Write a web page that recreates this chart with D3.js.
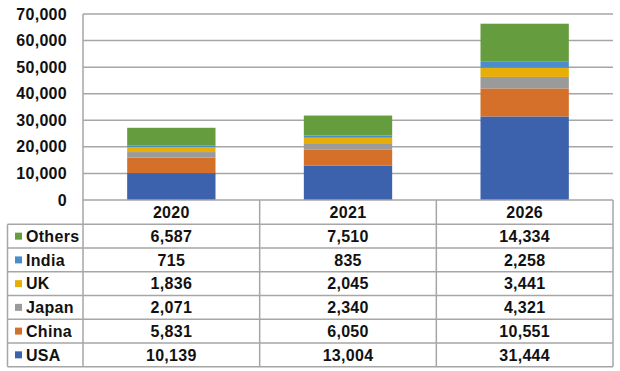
<!DOCTYPE html>
<html>
<head>
<meta charset="utf-8">
<script src="https://cdn.jsdelivr.net/npm/d3@7"></script>
<style>
    body { margin: 0; background: #fff; }
    text { font-family: "Liberation Sans", Arial, sans-serif; font-weight: bold; font-size: 16px; letter-spacing: 0.3px; fill: #111; }
</style>
</head>
<body>
<svg id="chartSvg" width="620" height="371"></svg>
<script>

const years = ['2020', '2021', '2026']
const countries = ['USA', 'China', 'Japan', 'UK', 'India', 'Others']
const usa = [10139, 13004, 31444]
const china = [5831, 6050, 10551]
const japan = [2071, 2340, 4321]
const uk = [1836, 2045, 3441]
const india = [715, 835, 2258]
const others = [6587, 7510, 14334]
const yTicks = [0, 10000, 20000, 30000, 40000, 50000, 60000, 70000]
const colours = ['#3D62AD', '#D5702B', '#9A9A9A', '#E8AE08', '#4A8DCC', '#659D3E']

window.onload = function(){
    chart.draw()
}

class chart {

    static left = 83
    static right = 613
    static top = 14
    static bottom = 200
    static tableLeft = 7.5
    static headerBottom = 224.3
    static tableBottom = 366.7
    static lineColour = '#A6A6A6'

    static draw(svg = d3.select('#chartSvg')){
        const seriesValues = [usa, china, japan, uk, india, others]
        const rows = years.map((year, i) => {
            const row = {year: year}
            countries.forEach((c, j) => row[c] = seriesValues[j][i])
            return row
        })

        const x = d3.scaleBand()
            .domain(years)
            .range([this.left, this.right])
            .paddingInner(0.5)
            .paddingOuter(0.25)

        const y = d3.scaleLinear()
            .domain([0, 70000])
            .range([this.bottom, this.top])

        // gridlines
        svg.append('g')
            .selectAll('line')
            .data(yTicks.slice(1))
            .join('line')
            .attr('x1', this.left).attr('x2', this.right)
            .attr('y1', d => y(d)).attr('y2', d => y(d))
            .attr('stroke', this.lineColour)
            .attr('stroke-width', 1.5)

        // y axis labels
        const yAxis = svg.append('g')
            .attr('transform', 'translate(' + this.left + ',0)')
            .call(d3.axisLeft(y).tickValues(yTicks).tickFormat(d3.format(',')).tickSize(0).tickPadding(16))
        yAxis.select('.domain').remove()
        yAxis.selectAll('text').attr('font-size', null).attr('font-family', null).attr('fill', null)

        // stacked bars
        const stacked = d3.stack().keys(countries)(rows)
        svg.append('g')
            .selectAll('g')
            .data(stacked)
            .join('g')
            .attr('fill', (d, i) => colours[i])
            .selectAll('rect')
            .data(d => d)
            .join('rect')
            .attr('x', d => x(d.data.year))
            .attr('width', x.bandwidth())
            .attr('y', d => y(d[1]))
            .attr('height', d => y(d[0]) - y(d[1]))

        this.drawTable(svg, x, seriesValues)
    }

    static drawTable(svg, x, seriesValues){
        const tableRows = countries.map((c, i) => ({name: c, colour: colours[i], values: seriesValues[i]})).reverse()
        const rowScale = d3.scaleBand()
            .domain(tableRows.map(d => d.name))
            .range([this.headerBottom, this.tableBottom])

        const step = x.step()
        const colEdges = years.map(yr => x(yr) + x.bandwidth() / 2 - step / 2)
        colEdges.push(this.right)

        const g = svg.append('g')
            .attr('stroke', this.lineColour)
            .attr('stroke-width', 1.5)

        // horizontal lines
        g.append('line')
            .attr('x1', this.left).attr('x2', this.right)
            .attr('y1', this.bottom).attr('y2', this.bottom)
        const hLines = tableRows.map(d => rowScale(d.name))
        hLines.push(this.tableBottom)
        g.selectAll('line.h')
            .data(hLines)
            .join('line')
            .attr('class', 'h')
            .attr('x1', this.tableLeft).attr('x2', this.right)
            .attr('y1', d => d).attr('y2', d => d)

        // vertical lines
        g.append('line')
            .attr('x1', this.tableLeft).attr('x2', this.tableLeft)
            .attr('y1', this.headerBottom).attr('y2', this.tableBottom)
        g.append('line')
            .attr('x1', this.left).attr('x2', this.left)
            .attr('y1', this.top).attr('y2', this.tableBottom)
        g.selectAll('line.v')
            .data(colEdges.slice(1))
            .join('line')
            .attr('class', 'v')
            .attr('x1', d => d).attr('x2', d => d)
            .attr('y1', this.bottom).attr('y2', this.tableBottom)

        // header
        svg.append('g')
            .selectAll('text')
            .data(years)
            .join('text')
            .attr('x', d => x(d) + x.bandwidth() / 2)
            .attr('y', (this.bottom + this.headerBottom) / 2)
            .attr('dy', '0.36em')
            .attr('text-anchor', 'middle')
            .text(d => d)

        // rows
        const rowGroups = svg.append('g')
            .selectAll('g')
            .data(tableRows)
            .join('g')
            .attr('transform', d => 'translate(0,' + (rowScale(d.name) + rowScale.bandwidth() / 2) + ')')

        rowGroups.append('rect')
            .attr('x', 15).attr('y', -3.5)
            .attr('width', 7).attr('height', 7)
            .attr('fill', d => d.colour)

        rowGroups.append('text')
            .attr('x', 26)
            .attr('dy', '0.36em')
            .text(d => d.name)

        rowGroups.selectAll('text.val')
            .data(d => d.values)
            .join('text')
            .attr('class', 'val')
            .attr('x', (d, i) => x(years[i]) + x.bandwidth() / 2)
            .attr('dy', '0.36em')
            .attr('text-anchor', 'middle')
            .text(d => d3.format(',')(d))
    }
}
</script>
</body>
</html>
